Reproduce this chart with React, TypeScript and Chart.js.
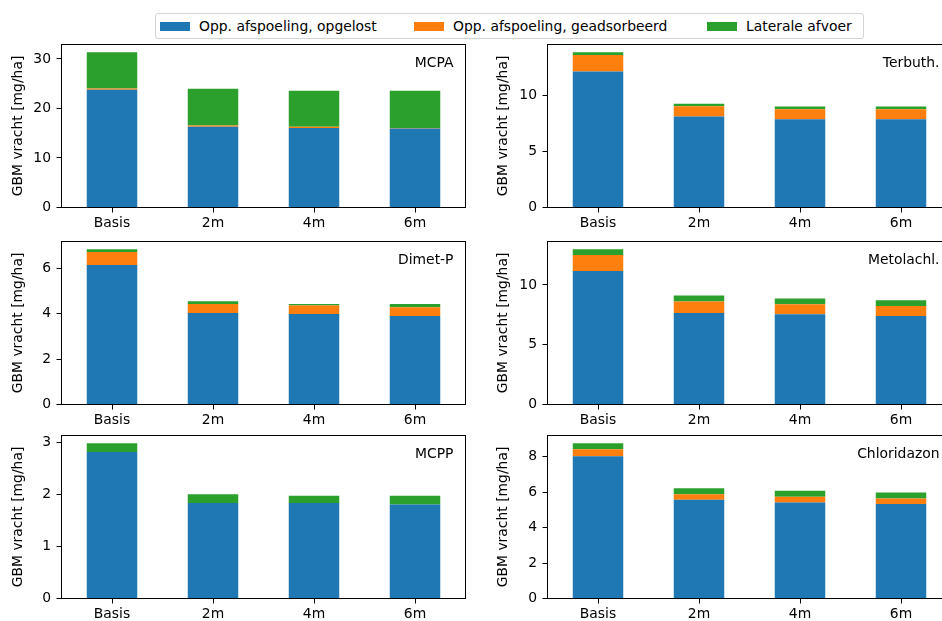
import React, { useEffect, useRef } from "react";
import { Chart, registerables } from "chart.js";

Chart.register(...registerables);

// ---------- data ----------
const CATEGORIES = ["Basis", "2m", "4m", "6m"];
const SERIES_NAMES = [
  "Opp. afspoeling, opgelost",
  "Opp. afspoeling, geadsorbeerd",
  "Laterale afvoer",
];
const SERIES_COLORS = ["#1f77b4", "#ff7f0e", "#2ca02c"];
const PANEL_NAMES = ["MCPA", "Terbuth.", "Dimet-P", "Metolachl.", "MCPP", "Chloridazon"];
const TICK_STEPS = [10, 5, 2, 5, 1, 2];
const Y_TITLE = "GBM vracht [mg/ha]";

const MCPA_OPGELOST = [23.77, 16.32, 16.05, 15.98];
const MCPA_GEADSORBEERD = [0.27, 0.27, 0.27, 0.08];
const MCPA_LATERAAL = [7.32, 7.38, 7.25, 7.51];

const TERBUTH_OPGELOST = [12.16, 8.12, 7.88, 7.88];
const TERBUTH_GEADSORBEERD = [1.47, 0.92, 0.9, 0.9];
const TERBUTH_LATERAAL = [0.24, 0.24, 0.24, 0.24];

const DIMETP_OPGELOST = [6.16, 4.04, 3.99, 3.9];
const DIMETP_GEADSORBEERD = [0.57, 0.4, 0.38, 0.39];
const DIMETP_LATERAAL = [0.12, 0.12, 0.07, 0.14];

const METOLACHL_OPGELOST = [11.17, 7.66, 7.55, 7.41];
const METOLACHL_GEADSORBEERD = [1.33, 0.95, 0.83, 0.83];
const METOLACHL_LATERAAL = [0.48, 0.5, 0.48, 0.48];

const MCPP_OPGELOST = [2.82, 1.84, 1.84, 1.81];
const MCPP_GEADSORBEERD = [0.0, 0.0, 0.0, 0.0];
const MCPP_LATERAAL = [0.17, 0.17, 0.14, 0.17];

const CHLORIDAZON_OPGELOST = [8.02, 5.56, 5.41, 5.32];
const CHLORIDAZON_GEADSORBEERD = [0.39, 0.32, 0.32, 0.32];
const CHLORIDAZON_LATERAAL = [0.34, 0.34, 0.34, 0.34];

const PANEL_DATA = [
  [MCPA_OPGELOST, MCPA_GEADSORBEERD, MCPA_LATERAAL],
  [TERBUTH_OPGELOST, TERBUTH_GEADSORBEERD, TERBUTH_LATERAAL],
  [DIMETP_OPGELOST, DIMETP_GEADSORBEERD, DIMETP_LATERAAL],
  [METOLACHL_OPGELOST, METOLACHL_GEADSORBEERD, METOLACHL_LATERAAL],
  [MCPP_OPGELOST, MCPP_GEADSORBEERD, MCPP_LATERAAL],
  [CHLORIDAZON_OPGELOST, CHLORIDAZON_GEADSORBEERD, CHLORIDAZON_LATERAAL],
];

// ---------- layout ----------
const FONT_FAMILY = "'DejaVu Sans', sans-serif";
const FONT_SIZE = 13.9;
const ROW_TOPS = [44.5, 241.5, 435.5];
const PLOT_H = 163;
const X_AXIS_H = 28.5;
const TOP_PAD = 4.5;
const COLS = [
  { cx: 0, yw: 61.5, w: 468, padRight: 2.5 },
  { cx: 485, yw: 62.5, w: 467, padRight: 0.5 },
];
const LEGEND_ITEM_LEFT = [4, 258, 551];

const framePlugin = {
  id: "frameLabel",
  afterDraw(chart: any, _args: any, opts: any) {
    const { ctx, chartArea } = chart;
    const { left, top, right, bottom } = chartArea;
    ctx.save();
    ctx.strokeStyle = "#000";
    ctx.lineWidth = 1;
    ctx.strokeRect(left, top, right - left, bottom - top);
    ctx.font = `${FONT_SIZE}px ${FONT_FAMILY}`;
    ctx.fillStyle = "#000";
    ctx.textAlign = "right";
    ctx.textBaseline = "middle";
    ctx.fillText(opts.label || "", right - 12, top + 19);
    ctx.restore();
  },
};

function Panel({ index }: { index: number }) {
  const ref = useRef<HTMLCanvasElement | null>(null);
  const col = COLS[index % 2];
  const rowTop = ROW_TOPS[Math.floor(index / 2)];
  const cy = rowTop - TOP_PAD;
  const h = Math.round(TOP_PAD + PLOT_H + X_AXIS_H);

  useEffect(() => {
    if (!ref.current) return;
    const series = PANEL_DATA[index];
    const totals = CATEGORIES.map((_, i) => series.reduce((s, arr) => s + arr[i], 0));
    const yMax = Math.max(...totals) * 1.05;
    const font = { family: FONT_FAMILY, size: FONT_SIZE };
    const chart = new Chart(ref.current, {
      type: "bar",
      data: {
        labels: CATEGORIES,
        datasets: series.map((vals, k) => ({
          label: SERIES_NAMES[k],
          data: vals,
          backgroundColor: SERIES_COLORS[k],
          borderWidth: 0,
          barPercentage: 0.5,
          categoryPercentage: 1,
        })),
      },
      options: {
        responsive: false,
        animation: false,
        devicePixelRatio: 1,
        layout: {
          padding: { left: 0, top: TOP_PAD, right: col.padRight, bottom: h - TOP_PAD - PLOT_H - X_AXIS_H },
        },
        plugins: {
          legend: { display: false },
          tooltip: { enabled: false },
          frameLabel: { label: PANEL_NAMES[index] },
        } as any,
        scales: {
          x: {
            stacked: true,
            offset: true,
            grid: {
              display: true,
              offset: false,
              drawOnChartArea: false,
              drawTicks: true,
              tickLength: 5,
              tickColor: "#000",
              lineWidth: 1,
            },
            border: { display: false },
            ticks: { font, color: "#000", padding: 3, autoSkip: false, maxRotation: 0 },
            afterFit: (s: any) => {
              s.height = X_AXIS_H;
              s.paddingLeft = 0;
              s.paddingRight = 0;
              s.paddingTop = 0;
              s.paddingBottom = 0;
            },
          },
          y: {
            stacked: true,
            min: 0,
            max: yMax,
            grid: {
              display: true,
              drawOnChartArea: false,
              drawTicks: true,
              tickLength: 5,
              tickColor: "#000",
              lineWidth: 1,
            },
            border: { display: false },
            ticks: {
              font,
              color: "#000",
              padding: 5.5,
              stepSize: TICK_STEPS[index],
              includeBounds: false,
            },
            title: {
              display: true,
              text: Y_TITLE,
              font,
              color: "#000",
              padding: { top: 10, bottom: 0 },
            },
            afterFit: (s: any) => {
              s.width = col.yw;
              s.paddingLeft = 0;
              s.paddingRight = 0;
              s.paddingTop = 0;
              s.paddingBottom = 0;
            },
          },
        } as any,
      },
      plugins: [framePlugin],
    });
    return () => chart.destroy();
  }, [index]);

  return (
    <canvas
      ref={ref}
      width={col.w}
      height={h}
      style={{ position: "absolute", left: col.cx, top: cy, width: col.w, height: h }}
    />
  );
}

function Legend() {
  return (
    <div
      style={{
        position: "absolute",
        left: 155,
        top: 13,
        width: 709,
        height: 26,
        boxSizing: "border-box",
        border: "1px solid #d3d3d3",
        borderRadius: 3,
        background: "#fff",
        fontFamily: FONT_FAMILY,
        fontSize: FONT_SIZE,
        color: "#000",
        whiteSpace: "nowrap",
      }}
    >
      {SERIES_NAMES.map((name, k) => (
        <div
          key={name}
          style={{
            position: "absolute",
            left: LEGEND_ITEM_LEFT[k],
            top: 0,
            height: 24,
            display: "flex",
            alignItems: "center",
          }}
        >
          <span
            style={{
              display: "inline-block",
              width: 30,
              height: 9,
              background: SERIES_COLORS[k],
              marginRight: 9,
            }}
          />
          <span>{name}</span>
        </div>
      ))}
    </div>
  );
}

export default function App() {
  return (
    <div
      style={{
        position: "fixed",
        left: 0,
        top: 0,
        width: 942,
        height: 621,
        overflow: "hidden",
        background: "#fff",
      }}
    >
      {PANEL_NAMES.map((_, i) => (
        <Panel key={i} index={i} />
      ))}
      <Legend />
    </div>
  );
}
